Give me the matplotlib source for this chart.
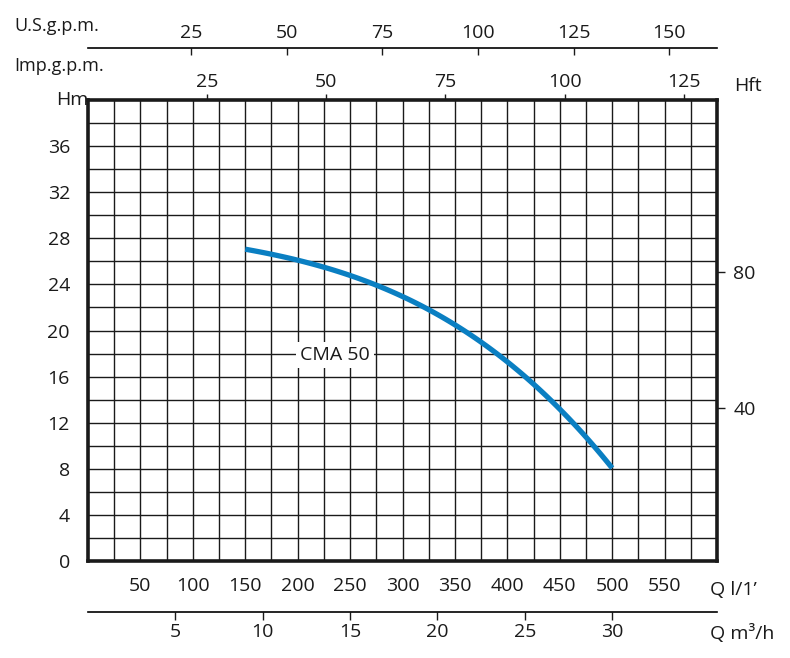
import matplotlib
matplotlib.use("Agg")
import matplotlib.pyplot as plt
import numpy as np

plt.rcParams['font.family'] = ['Open Sans', 'DejaVu Sans']

# data
q_lmin = [150, 200, 250, 300, 350, 400, 450, 500]
h_m = [27.0, 26.2, 24.8, 22.9, 20.4, 17.3, 13.3, 8.0]
lmin_ticks = [50, 100, 150, 200, 250, 300, 350, 400, 450, 500, 550]
m3h_ticks = [5, 10, 15, 20, 25, 30]
us_ticks = [25, 50, 75, 100, 125, 150]
imp_ticks = [25, 50, 75, 100, 125]
hm_ticks = [0, 4, 8, 12, 16, 20, 24, 28, 32, 36]
hft_ticks = [40, 80]

PX = 0.72  # points per pixel at dpi 100
FS = 14
fig = plt.figure(figsize=(7.9, 6.58), dpi=100)
W, H = 790, 658
ax = fig.add_axes([88/W, (H-561)/H, 629/W, 461/H])
ax.set_xlim(0, 600); ax.set_ylim(0, 40)
for x in np.arange(25, 600, 25):
    ax.axvline(x, color='#1a1a1a', lw=1.0, zorder=1)
for y in np.arange(2, 40, 2):
    ax.axhline(y, color='#1a1a1a', lw=1.0, zorder=1)
for s in ax.spines.values():
    s.set_linewidth(2.6); s.set_color('#1a1a1a')

xs = np.linspace(150, 500, 100)
coef = np.polyfit(q_lmin, h_m, 3)
ax.plot(xs, np.polyval(coef, xs), color='#0a7fc2', lw=3.8, solid_capstyle='butt', zorder=3)
ax.text((335-88)/629*600, (561-355)/461*40, 'CMA 50', fontsize=FS, ha='center', va='center',
        color='#1a1a1a', bbox=dict(facecolor='white', edgecolor='none', pad=3), zorder=4)

ax.set_yticks(hm_ticks)
ax.tick_params(axis='y', length=0, labelsize=FS, pad=18*PX, colors='#1a1a1a')
ax.set_xticks(lmin_ticks)
ax.tick_params(axis='x', bottom=False, top=False, length=0, labelsize=FS, pad=16*PX, colors='#1a1a1a')

# imp gpm on top
ax_imp = ax.secondary_xaxis('top', functions=(lambda q: q/4.546, lambda g: g*4.546))
ax_imp.set_xticks(imp_ticks)
ax_imp.spines['top'].set_visible(False)
ax_imp.tick_params(direction='out', length=6*PX, width=1, labelsize=FS, pad=2, colors='#1a1a1a')

# US gpm axis
ax_us = ax.secondary_xaxis('top', functions=(lambda q: (q-7)/3.65, lambda g: 7+g*3.65))
ax_us.spines['top'].set_position(('outward', 52*PX))
ax_us.spines['top'].set_linewidth(1.2)
ax_us.set_xticks(us_ticks)
ax_us.tick_params(direction='in', length=7*PX, width=1, labelsize=FS, pad=6*PX, colors='#1a1a1a')

# m3/h axis
ax_m3 = ax.secondary_xaxis('bottom', functions=(lambda q: q*60/1000, lambda m: m*1000/60))
ax_m3.spines['bottom'].set_position(('outward', 51*PX))
ax_m3.spines['bottom'].set_linewidth(1.2)
ax_m3.set_xticks(m3h_ticks)
ax_m3.tick_params(direction='out', length=8*PX, width=1, labelsize=FS, pad=2, colors='#1a1a1a')

# Hft on right
ax_ft = ax.secondary_yaxis('right', functions=(lambda m: (m-1.5)*3.39, lambda f: f/3.39+1.5))
ax_ft.set_yticks(hft_ticks)
ax_ft.spines['right'].set_visible(False)
ax_ft.tick_params(direction='out', length=8*PX, width=1, labelsize=FS, pad=6, colors='#1a1a1a')

fig.text(72/W, 1-100/H, 'Hm', fontsize=FS, ha='center', va='center', color='#1a1a1a')
fig.text(748/W, 1-86/H, 'Hft', fontsize=FS, ha='center', va='center', color='#1a1a1a')
fig.text(14/W, 1-26/H, 'U.S.g.p.m.', fontsize=13, ha='left', va='center', color='#1a1a1a')
fig.text(14/W, 1-66/H, 'Imp.g.p.m.', fontsize=13, ha='left', va='center', color='#1a1a1a')
fig.text(710/W, 1-590/H, 'Q l/1’', fontsize=FS, ha='left', va='center', color='#1a1a1a')
fig.text(710/W, 1-634/H, 'Q m³/h', fontsize=FS, ha='left', va='center', color='#1a1a1a')

fig.savefig('out.png', dpi=100, facecolor='white')
